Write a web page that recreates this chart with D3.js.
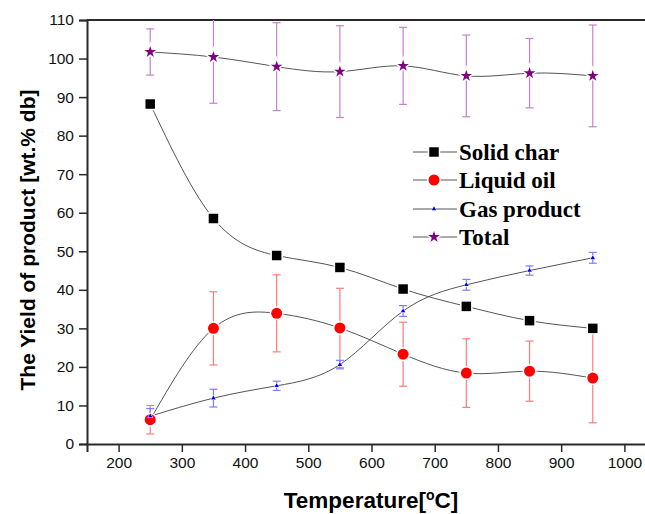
<!DOCTYPE html>
<html>
<head>
<meta charset="utf-8">
<script src="https://cdn.jsdelivr.net/npm/d3@7"></script>
<style>
  body { margin: 0; background: #fff; }
  svg { display: block; }
</style>
</head>
<body>
<div id="chart"></div>
<script>
'use strict'

// temperatures (°C) and yields (wt.% db)
const temps = [250, 350, 450, 550, 650, 750, 850, 950]
const solidChar = [88.2, 58.5, 48.9, 45.8, 40.2, 35.7, 32.0, 30.0]
const liquidOil = [6.3, 30.0, 33.9, 30.1, 23.3, 18.4, 18.9, 17.1]
const liquidOilErr = [3.7, 9.5, 10.0, 10.3, 8.3, 8.9, 7.8, 11.6]
const gasProduct = [7.2, 11.9, 15.1, 20.6, 34.5, 41.3, 45.0, 48.3]
const gasErr = [2.0, 2.3, 1.2, 1.1, 1.4, 1.4, 1.2, 1.4]
const total = [101.7, 100.4, 97.9, 96.6, 98.1, 95.5, 96.2, 95.5]
const totalErr = [6.0, 12.0, 11.4, 11.9, 10.0, 10.6, 9.0, 13.2]

const xTicks = [200, 300, 400, 500, 600, 700, 800, 900, 1000]
const yTicks = [0, 10, 20, 30, 40, 50, 60, 70, 80, 90, 100, 110]

const W = 645, H = 514
const x = d3.scaleLinear().domain([150, 1050]).range([87, 656])
const y = d3.scaleLinear().domain([0, 110]).range([444, 20])

const svg = d3.select('#chart').append('svg')
  .attr('width', W).attr('height', H)

svg.append('clipPath').attr('id', 'plot')
  .append('rect').attr('x', 87).attr('y', 20).attr('width', 600).attr('height', 424)

const series = [
  {name: 'Solid char', vals: solidChar, err: null, symbol: d3.symbolSquare, size: 90, fill: '#000', errColor: null},
  {name: 'Liquid oil', vals: liquidOil, err: liquidOilErr, symbol: d3.symbolCircle, size: 95, fill: '#ff0000', errColor: '#ff7a7a'},
  {name: 'Gas product', vals: gasProduct, err: gasErr, symbol: d3.symbolTriangle, size: 9, fill: '#0000ff', errColor: '#7d7dff'},
  {name: 'Total', vals: total, err: totalErr, symbol: d3.symbolStar, size: 42, fill: '#800080', errColor: '#c77fcf'},
]

// axes
const xAxis = svg.append('g').attr('transform', 'translate(0,444)')
xAxis.call(d3.axisBottom(x).tickValues(d3.range(150, 1051, 50)).tickSize(5).tickFormat(''))
xAxis.call(d3.axisBottom(x).tickValues(xTicks).tickSize(8).tickFormat(d3.format('d')))
xAxis.selectAll('.domain').attr('stroke', '#2a2a2a').attr('stroke-width', 2)
xAxis.selectAll('.tick line').attr('stroke', '#2a2a2a').attr('stroke-width', 1.5)
xAxis.selectAll('.tick text').attr('y', 13).attr('dy', '0.71em')
  .style('font-family', 'Liberation Sans, Arial, sans-serif').style('font-size', '15.5px').attr('fill', '#111')

const yAxis = svg.append('g').attr('transform', 'translate(87,0)')
yAxis.call(d3.axisLeft(y).tickValues(d3.range(5, 110, 10)).tickSize(5).tickFormat(''))
yAxis.call(d3.axisLeft(y).tickValues(yTicks).tickSize(8).tickFormat(d3.format('d')))
yAxis.selectAll('.domain').attr('stroke', '#2a2a2a').attr('stroke-width', 2)
yAxis.selectAll('.tick line').attr('stroke', '#2a2a2a').attr('stroke-width', 1.5)
yAxis.selectAll('.tick text').attr('x', -13)
  .style('font-family', 'Liberation Sans, Arial, sans-serif').style('font-size', '15.5px').attr('fill', '#111')

// top frame line
svg.append('line').attr('x1', 87).attr('x2', W).attr('y1', y(110)).attr('y2', y(110))
  .attr('stroke', '#2a2a2a').attr('stroke-width', 2)

// axis titles
svg.append('text')
  .attr('transform', 'translate(35,' + ((20 + 444) / 2 + 8) + ')rotate(-90)')
  .attr('text-anchor', 'middle')
  .style('font-family', 'Liberation Sans, Arial, sans-serif').style('font-weight', 'bold').style('font-size', '21px')
  .text('The Yield of product [wt.% db]')

const xt = svg.append('text')
  .attr('x', 371).attr('y', 508).attr('text-anchor', 'middle')
  .style('font-family', 'Liberation Sans, Arial, sans-serif').style('font-weight', 'bold').style('font-size', '22.5px')
xt.append('tspan').text('Temperature[')
xt.append('tspan').attr('dy', -8).style('font-size', '14px').text('o')
xt.append('tspan').attr('dy', 8).text('C]')

// lines
const line = d3.line().x((d, i) => x(temps[i])).y(d => y(d)).curve(d3.curveNatural)
series.forEach(s => {
  svg.append('path').datum(s.vals)
    .attr('d', line).attr('fill', 'none').attr('stroke', '#555').attr('stroke-width', 1)
})

// error bars
const eg = svg.append('g').attr('clip-path', 'url(#plot)')
series.filter(s => s.err).forEach(s => {
  const g = eg.append('g').attr('stroke', s.errColor).attr('stroke-width', 1.2)
  s.vals.forEach((v, i) => {
    const cx = x(temps[i]), e = s.err[i]
    g.append('line').attr('x1', cx).attr('x2', cx).attr('y1', y(v - e)).attr('y2', y(v + e))
    g.append('line').attr('x1', cx - 4).attr('x2', cx + 4).attr('y1', y(v - e)).attr('y2', y(v - e))
    g.append('line').attr('x1', cx - 4).attr('x2', cx + 4).attr('y1', y(v + e)).attr('y2', y(v + e))
  })
})

// markers with a white halo (gap to line)
series.forEach(s => {
  svg.append('g').selectAll('path').data(s.vals).join('path')
    .attr('d', d3.symbol(s.symbol, s.size))
    .attr('transform', (d, i) => 'translate(' + x(temps[i]) + ',' + y(d) + ')')
    .attr('fill', s.fill)
    .attr('stroke', '#fff').attr('stroke-width', s.size > 20 ? 3 : 1)
    .style('paint-order', 'stroke')
})

// legend
const legendY = [152, 180, 209, 237]
const lg = svg.append('g')
series.forEach((s, i) => {
  const ly = legendY[i]
  lg.append('line').attr('x1', 413).attr('x2', 457).attr('y1', ly).attr('y2', ly)
    .attr('stroke', '#555').attr('stroke-width', 1)
  lg.append('path').attr('d', d3.symbol(s.symbol, s.size)())
    .attr('transform', 'translate(434,' + ly + ')')
    .attr('fill', s.fill).attr('stroke', '#fff').attr('stroke-width', s.size > 20 ? 3 : 1)
    .style('paint-order', 'stroke')
  lg.append('text').attr('x', 459).attr('y', ly + 8)
    .style('font-family', 'Liberation Serif, Times New Roman, serif').style('font-weight', 'bold').style('font-size', '23px')
    .text(s.name)
})
</script>
</body>
</html>
